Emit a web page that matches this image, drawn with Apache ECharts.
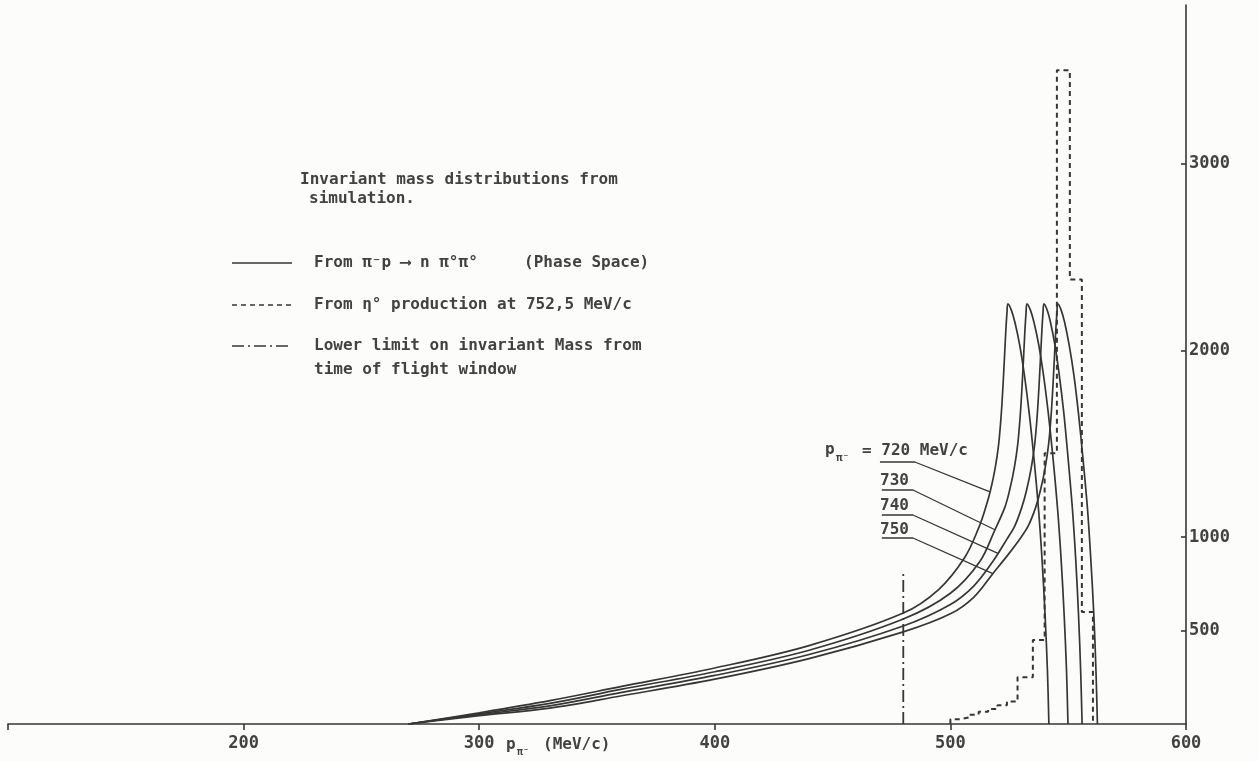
<!DOCTYPE html>
<html>
<head>
<meta charset="utf-8">
<script src="https://cdn.jsdelivr.net/npm/echarts@6/dist/echarts.min.js"></script>
<style>
  html, body { margin: 0; padding: 0; background: #fcfcfa; }
  #chart { width: 1259px; height: 761px; }
</style>
</head>
<body>
<div id="chart"></div>
<script>
// axis ticks
const xTicks = [100, 200, 300, 400, 500, 600];
const xLabels = [200, 300, 400, 500, 600];
const yLabels = [500, 1000, 2000, 3000];

// phase space curves, [p (MeV/c), counts]
const curve720 = [[270, 0], [300, 60], [330, 125], [360, 200], [400, 300], [440, 420], [480, 594], [495, 720], [506, 890],
  [512, 1050], [515, 1160], [517, 1250], [519, 1370], [520.5, 1500], [521.7, 1680], [522.7, 1900], [523.5, 2100], [524, 2200], [524.4, 2250],
  [525.9, 2215], [527.4, 2150], [529.4, 2030], [531.4, 1870], [533.4, 1670], [535.4, 1430], [537.4, 1150], [538.9, 880],
  [540.2, 580], [541.2, 280], [541.8, 0]];
const curve730 = [[270, 0], [300, 55], [330, 110], [360, 185], [400, 280], [440, 395], [480, 562], [500, 700], [512.5, 870],
  [518.9, 1040], [523.1, 1160], [525.1, 1250], [527.1, 1370], [528.6, 1500], [529.8, 1680], [530.8, 1900], [531.6, 2100], [532.1, 2200], [532.5, 2250],
  [534, 2215], [535.5, 2150], [537.5, 2030], [539.5, 1870], [541.5, 1670], [543.5, 1430], [545.5, 1150], [547, 880],
  [548.3, 580], [549.3, 280], [549.9, 0]];
const curve740 = [[270, 0], [300, 50], [330, 97], [360, 168], [400, 260], [440, 372], [480, 525], [500, 640], [510, 740],
  [518, 870], [524, 990], [527.3, 1060], [530.3, 1160], [532.3, 1250], [534.3, 1370], [535.8, 1500], [537, 1680], [538, 1900], [538.8, 2100], [539.3, 2200], [539.7, 2250],
  [541.1, 2215], [542.5, 2150], [544.35, 2030], [546.2, 1870], [548.1, 1670], [549.9, 1430], [551.8, 1150], [553.2, 880],
  [554.4, 580], [555.3, 280], [555.9, 0]];
const curve750 = [[270, 0], [300, 45], [330, 85], [360, 150], [400, 240], [440, 350], [480, 493], [500, 590], [510, 680],
  [518, 805], [525, 915], [530, 1000], [533.2, 1065], [536.2, 1160], [538.2, 1250], [540.2, 1370], [541.7, 1500], [542.9, 1680], [543.9, 1900], [544.7, 2100], [545.2, 2200], [545.6, 2250],
  [547.05, 2215], [548.5, 2150], [550.4, 2030], [552.4, 1870], [554.3, 1670], [556.2, 1430], [558.2, 1150], [559.6, 880],
  [560.9, 580], [561.8, 280], [562.4, 0]];

// eta production histogram
const histEdges = [500, 504, 508, 512, 516, 520, 524, 528.5, 535, 540, 545.2, 550.7, 555.8, 560.5];
const histCounts = [25, 35, 50, 65, 80, 100, 120, 250, 450, 1450, 3500, 2380, 600];

// time of flight lower limit
const tofLimit = [[480, 0], [480, 814]];

// leader lines from the momentum labels to the curves
const leaders = [
  [[470.1, 1403], [484.9, 1403], [516.8, 1243]],
  [[470.9, 1253], [484.1, 1253], [518.9, 1040]],
  [[470.9, 1119], [484.1, 1119], [520.2, 914]],
  [[470.9, 996], [484.1, 996], [518, 805]]
];
const leaderText = ['730', '740', '750'];

const ink = '#363636';
const txt = '#424242';
const mono = '"DejaVu Sans Mono"';
const font = 'bold 16px ' + mono;

const histOutline = [[histEdges[0], 0]];
histCounts.forEach((c, i) => {
  histOutline.push([histEdges[i], c]);
  histOutline.push([histEdges[i + 1], c]);
});
histOutline.push([histEdges[histEdges.length - 1], 0]);

const chart = echarts.init(document.getElementById('chart'));

const curveSeries = [curve720, curve730, curve740, curve750].map(d => ({
  type: 'line',
  data: d,
  symbol: 'none',
  smooth: 0.35,
  lineStyle: { color: ink, width: 1.7 },
  z: 3
}));

const leaderSeries = leaders.map(d => ({
  type: 'line',
  data: d,
  symbol: 'none',
  lineStyle: { color: ink, width: 1.3 },
  z: 2
}));

function t(x, y, text, f) {
  return {
    type: 'text', x: x, y: y,
    style: { text: text, fill: txt, font: f || font, verticalAlign: 'middle' }
  };
}

const option = {
  animation: false,
  backgroundColor: '#fcfcfa',
  grid: { left: 8, right: 73, top: 5, bottom: 37 },
  xAxis: {
    type: 'value',
    min: 100,
    max: 600,
    interval: 100,
    splitLine: { show: false },
    axisLine: { lineStyle: { color: ink, width: 1.6 } },
    axisTick: { customValues: xTicks, length: 6, lineStyle: { color: ink, width: 1.6 } },
    axisLabel: {
      customValues: xLabels, margin: 11, color: txt,
      fontFamily: 'DejaVu Sans Mono', fontSize: 17, fontWeight: 'bold'
    }
  },
  yAxis: {
    type: 'value',
    position: 'right',
    min: 0,
    max: 3850,
    splitLine: { show: false },
    axisLine: { show: true, lineStyle: { color: ink, width: 1.6 } },
    axisTick: { show: true, customValues: yLabels, length: 5, inside: true, lineStyle: { color: ink, width: 1.6 } },
    axisLabel: {
      customValues: yLabels, margin: 3, color: txt,
      formatter: v => String(v),
      fontFamily: 'DejaVu Sans Mono', fontSize: 17, fontWeight: 'bold'
    }
  },
  series: curveSeries.concat(leaderSeries, [
    {
      type: 'line',
      data: histOutline,
      symbol: 'none',
      lineStyle: { color: ink, width: 2, type: [5, 4] },
      z: 4
    },
    {
      type: 'line',
      data: tofLimit,
      symbol: 'none',
      lineStyle: { color: ink, width: 1.8, type: [12, 4, 2, 4] },
      z: 4
    }
  ]),
  graphic: [
    t(300, 180, 'Invariant mass distributions from'),
    t(309, 199, 'simulation.'),
    { type: 'line', shape: { x1: 232, y1: 263, x2: 292, y2: 263 }, style: { stroke: ink, lineWidth: 1.7 } },
    t(314, 263, 'From π⁻p ⟶ n π°π°'),
    t(524, 263, '(Phase Space)'),
    { type: 'line', shape: { x1: 232, y1: 305, x2: 292, y2: 305 }, style: { stroke: ink, lineWidth: 1.7, lineDash: [5, 4] } },
    t(314, 305, 'From η° production at 752,5 MeV/c'),
    { type: 'line', shape: { x1: 232, y1: 346, x2: 292, y2: 346 }, style: { stroke: ink, lineWidth: 1.7, lineDash: [12, 4, 2, 4] } },
    t(314, 346, 'Lower limit on invariant Mass from'),
    t(314, 370, 'time of flight window'),
    t(825, 450, 'p'),
    t(836, 458, 'π⁻', 'bold 11px ' + mono),
    t(862, 451, '= 720 MeV/c'),
    t(880, 481, leaderText[0]),
    t(880, 506, leaderText[1]),
    t(880, 530, leaderText[2]),
    t(506, 745, 'p', 'bold 16px ' + mono),
    t(517, 752, 'π⁻', 'bold 10px ' + mono),
    t(543, 745, '(MeV/c)', 'bold 16px ' + mono)
  ]
};

chart.setOption(option);
</script>
</body>
</html>
